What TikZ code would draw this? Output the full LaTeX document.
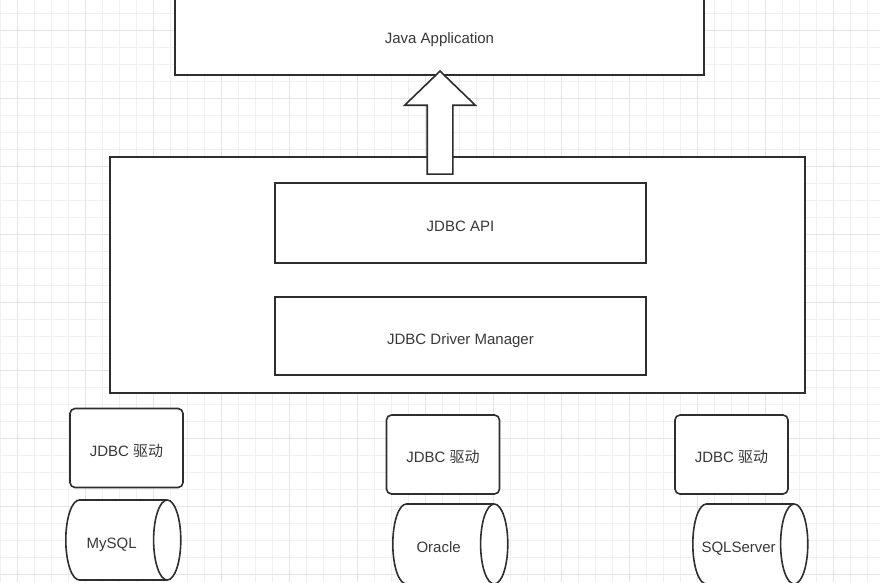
\documentclass[tikz,border=0pt]{standalone}
\usepackage{fontspec}
\setmainfont{Liberation Sans}
\newfontfamily\cjk{Noto Sans CJK SC}
\usetikzlibrary{shapes.geometric,shapes.arrows}
\colorlet{frame color}{black!82}
\colorlet{label color}{black!78}
\colorlet{minor grid color}{black!6}
\colorlet{major grid color}{black!10}
\tikzset{
    x={1pt},
    y={-1pt},
    minor grid/.style={
        draw=minor grid color,
        line width={1pt},
    },
    major grid/.style={
        draw=major grid color,
        line width={1pt},
    },
    box text/.style={
        font={\fontsize{15}{18}\selectfont\color{label color}},
        text height={16pt},
        text depth={0pt},
        inner sep=0pt,
    },
    layer box/.style 2 args={
        rectangle, box text,
        draw=frame color, fill=white,
        line width={1.6pt},
        minimum width={#1},
        minimum height={#2},
    },
    driver box/.style={
        layer box={113}{79},
        rounded corners={5pt},
    },
    database/.style={
        cylinder, shape border rotate=0, box text,
        draw=frame color, fill=white,
        line width={1.6pt},
        aspect=1.7,
        minimum width={80},
        minimum height={115},
        anchor=west,
        label={[box text, xshift=-4.5pt]center:#1},
    },
    push arrow/.style={
        single arrow, shape border rotate=90,
        draw=frame color, fill=white,
        line width={1.6pt},
        inner sep=12pt,
        minimum height={103},
        single arrow head extend={22.5pt},
        single arrow tip angle=92,
    },
}

\begin{document}
\begin{tikzpicture}
\useasboundingbox (0,0) rectangle (880,582);
\clip (0,0) rectangle (880,582);
% grid
\fill[white] (0,0) rectangle (880,582);
\foreach \gx in {0,17,...,884} \draw[minor grid] (\gx,0) -- (\gx,582);
\foreach \gy in {13.5,30.5,...,590} \draw[minor grid] (0,\gy) -- (880,\gy);
\foreach \gx in {17,85,...,884} \draw[major grid] (\gx,0) -- (\gx,582);
\foreach \gy in {30.5,98.5,...,590} \draw[major grid] (0,\gy) -- (880,\gy);
% layers
\node[layer box={529}{80}] (app) at (439.5,35) {Java Application};
\node[layer box={695}{236}] (jdbc) at (457.5,275) {};
\node[layer box={371}{80}] (api) at (460.5,223) {JDBC API};
\node[layer box={371}{78}] (manager) at (460.5,336) {JDBC Driver Manager};
% arrow
\node[push arrow, anchor=tip] (up) at (440,70) {};
% drivers
\node[driver box] (mysql driver) at (126.5,448) {JDBC {\cjk 驱动}};
\node[driver box] (oracle driver) at (443,454.5) {JDBC {\cjk 驱动}};
\node[driver box] (sqlserver driver) at (731.5,454.5) {JDBC {\cjk 驱动}};
% databases
\node[database=MySQL] (mysql) at (65,540) {};
\node[database=Oracle] (oracle) at (392,544) {};
\node[database=SQLServer] (sqlserver) at (692,544) {};
\end{tikzpicture}
\end{document}
